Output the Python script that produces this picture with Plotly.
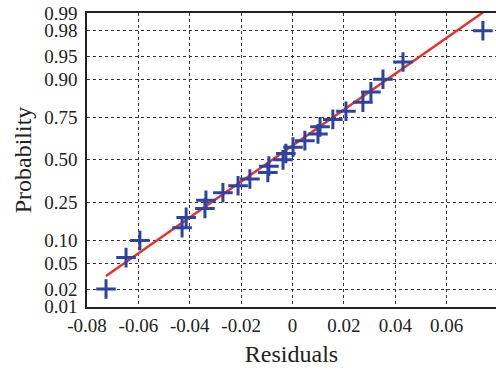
import plotly.graph_objects as go
from statistics import NormalDist

# Sorted residuals
residuals = [-0.0726, -0.0648, -0.0594, -0.0430, -0.0414, -0.0341, -0.0337,
             -0.0271, -0.0212, -0.0166, -0.0096, -0.0092, -0.0037, -0.0026,
             0.0002, 0.0048, 0.0099, 0.0107, 0.0157, 0.0208, 0.0274, 0.0305,
             0.0352, 0.0430, 0.0741]

# Reference (fitted normal) line parameters
fit_mu = -0.0079
fit_sigma = 0.0350

prob_ticks = [0.01, 0.02, 0.05, 0.10, 0.25, 0.50, 0.75, 0.90, 0.95, 0.98, 0.99]
prob_labels = ["0.01", "0.02", "0.05", "0.10", "0.25", "0.50", "0.75", "0.90", "0.95", "0.98", "0.99"]
x_ticks = [-0.08, -0.06, -0.04, -0.02, 0, 0.02, 0.04, 0.06]
x_labels = ["-0.08", "-0.06", "-0.04", "-0.02", "0", "0.02", "0.04", "0.06"]

nd = NormalDist()
n = len(residuals)
z_points = [nd.inv_cdf((i + 0.5) / n) for i in range(n)]
z_ticks = [nd.inv_cdf(p) for p in prob_ticks]

line_x = [min(residuals), max(residuals)]
line_z = [(v - fit_mu) / fit_sigma for v in line_x]

fig = go.Figure()
fig.add_trace(go.Scatter(x=line_x, y=line_z, mode="lines",
                         line=dict(color="#E5342A", width=2.5),
                         showlegend=False, hoverinfo="skip"))
fig.add_trace(go.Scatter(x=residuals, y=z_points, mode="markers",
                         marker=dict(symbol="cross-thin", size=14,
                                     line=dict(color="#2E43A0", width=3)),
                         showlegend=False))

serif = "Liberation Serif"
tick_font = dict(family=serif, size=19, color="#222")
title_font = dict(family=serif, size=24, color="#222")
fig.update_layout(
    width=496, height=373,
    margin=dict(l=87, r=0, t=13, b=66),
    paper_bgcolor="white", plot_bgcolor="white",
    font=dict(family=serif, size=19, color="#222"),
    xaxis=dict(range=[-0.08, 0.0792], tickvals=x_ticks, ticktext=x_labels,
               tickfont=tick_font,
               showgrid=True, gridcolor="#333", griddash="dot", gridwidth=1,
               showline=True, linecolor="#222", linewidth=1.5, mirror=True,
               ticks="", zeroline=False,
               title=dict(text="Residuals", font=title_font, standoff=11)),
    yaxis=dict(range=[-2.34, 2.335], tickvals=z_ticks, ticktext=prob_labels,
               tickfont=tick_font,
               showgrid=True, gridcolor="#333", griddash="dot", gridwidth=1,
               showline=True, linecolor="#222", linewidth=1.5, mirror=False,
               ticks="", zeroline=False, ticklabelstandoff=4,
               title=dict(text="Probability", font=title_font, standoff=6)),
)

fig.write_html("out.html")
